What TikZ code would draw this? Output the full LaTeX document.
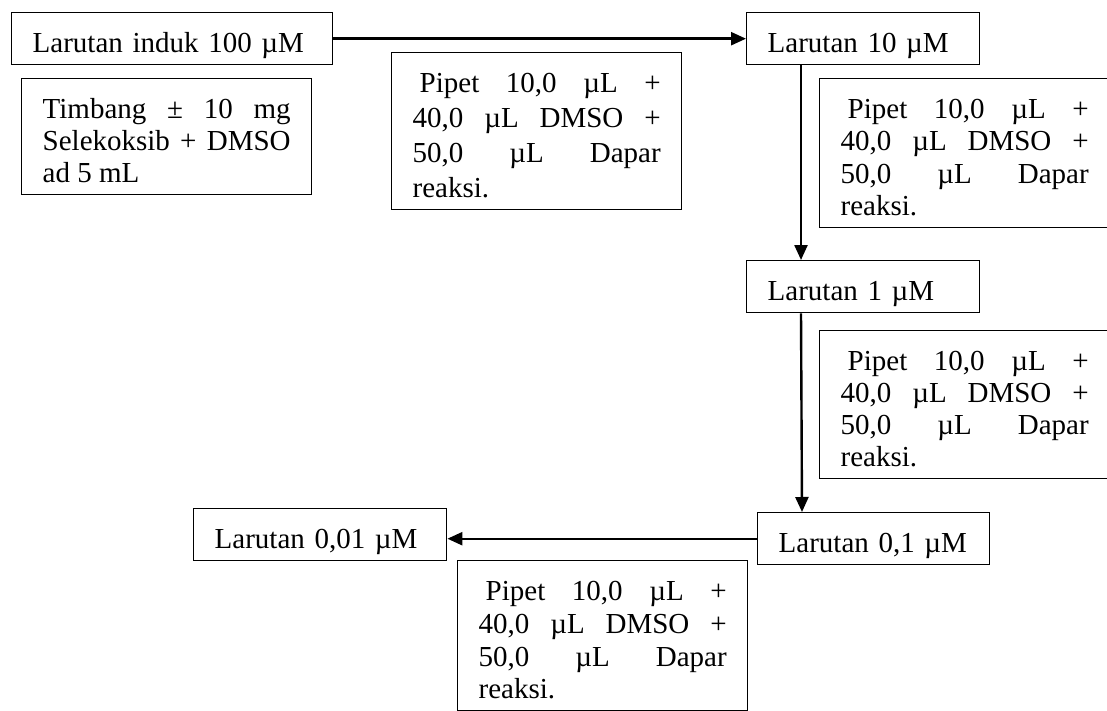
\documentclass[tikz,border=0pt]{standalone}
\usepackage{fontspec}
\setmainfont{Liberation Serif}
\usetikzlibrary{arrows.meta}
\newcommand{\myTop}{\rule{0pt}{40pt}}
\newcommand{\myBot}{\rule[-12pt]{0pt}{12pt}}
\begin{document}
\begin{tikzpicture}[x=1pt,y=-1pt,
  basebox/.style={draw,line width=1.4pt,anchor=north west,inner xsep=21pt,inner ysep=0pt},
  single/.style={basebox,align=left,font=\fontsize{29}{35}\selectfont},
  multi/.style={basebox,align=justify,text width=248pt,font=\fontsize{29}{#1}\selectfont},
  arr/.style={line width=2.4pt,-{Triangle[length=15pt,width=13pt]}}
]
\clip (0,0) rectangle (1107,711);
% main boxes
\node[single,text width=279pt] (A) at (11,12) {\myTop\mbox{Larutan induk 100 µM}\myBot};
\node[single,text width=191pt] (C) at (746,12) {\myTop\mbox{Larutan 10 µM}\myBot};
\node[single,text width=191pt] (F) at (746,260) {\myTop\mbox{Larutan 1 µM}\myBot};
\node[single,text width=190pt] (H) at (757,512) {\myTop\mbox{Larutan 0,1 µM}\myBot};
\node[single,text width=211pt] (I) at (193,508) {\myTop\mbox{Larutan 0,01 µM}\myBot};
% note boxes
\node[multi=32] (B) at (21,78) {\noindent\myTop Timbang ± 10 mg\linebreak Selekoksib + DMSO\linebreak ad 5 mL\myBot};
\node[multi=35] (D) at (391,52) {\noindent\myTop\hspace*{7pt}Pipet 10,0 µL +\linebreak 40,0 µL DMSO +\linebreak 50,0 µL Dapar\linebreak reaksi.\myBot};
\node[multi=32.3] (E) at (819,78) {\noindent\myTop\hspace*{7pt}Pipet 10,0 µL +\linebreak 40,0 µL DMSO +\linebreak 50,0 µL Dapar\linebreak reaksi.\myBot};
\node[multi=32] (G) at (819,330) {\noindent\myTop\hspace*{7pt}Pipet 10,0 µL +\linebreak 40,0 µL DMSO +\linebreak 50,0 µL Dapar\linebreak reaksi.\myBot};
\node[multi=32.7] (J) at (457,560) {\noindent\myTop\hspace*{7pt}Pipet 10,0 µL +\linebreak 40,0 µL DMSO +\linebreak 50,0 µL Dapar\linebreak reaksi.\myBot};
% connectors
\draw[arr] (A.east) -- (C.west);
\draw[arr] ([xshift=55pt]C.south west) -- ([xshift=55pt]F.north west);
\draw[arr] ([xshift=55pt]F.south west) -- ([xshift=45pt]H.north west);
\draw[arr] (H.west) -- (I.east |- H.west);
\end{tikzpicture}
\end{document}
